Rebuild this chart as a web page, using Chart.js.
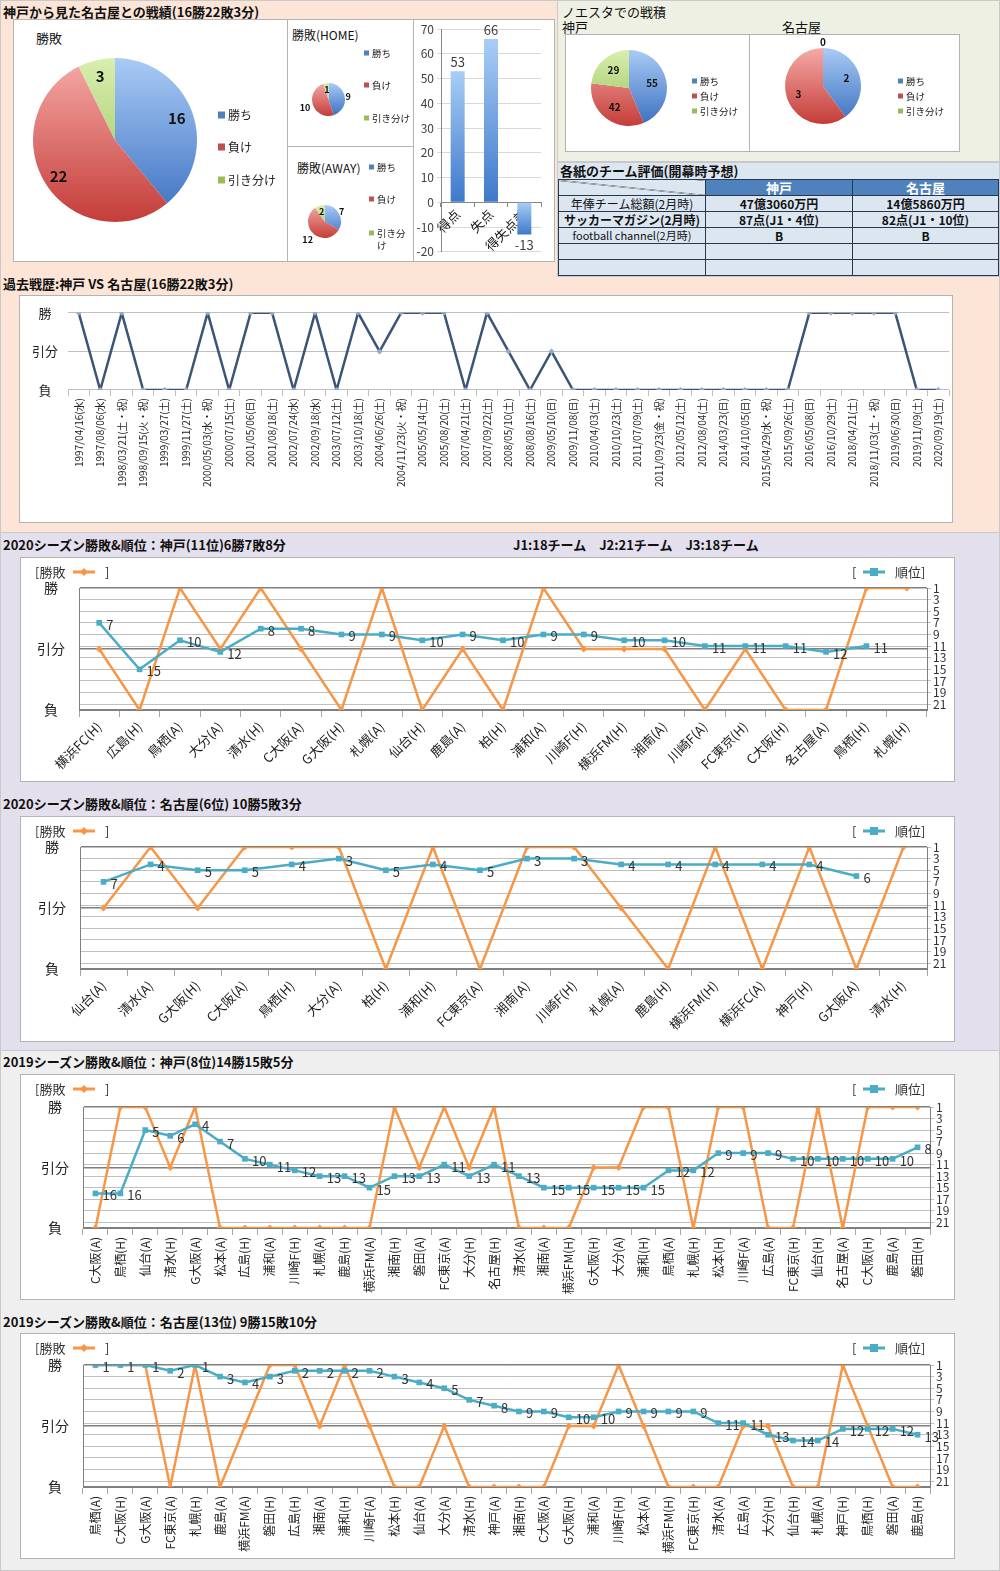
<!DOCTYPE html>
<html lang="ja">
<head>
<meta charset="UTF-8">
<title>神戸 vs 名古屋 戦績</title>
<script src="https://cdn.jsdelivr.net/npm/chart.js"></script>
<style>
  body { margin: 0; width: 1000px; height: 1571px; position: relative; overflow: hidden;
         font-family: "Noto Sans CJK JP", "Noto Sans", sans-serif; color: #111; }
  .sec, .box, .ttl, .txt, canvas { position: absolute; }
  .sec { box-sizing: border-box; border: 1px solid #c9c9c9; }
  .box { background: #fff; border: 1px solid #b3b3b3; box-sizing: border-box; }
  .ttl { font-weight: bold; font-size: 13px; line-height: 16px; white-space: nowrap; }
  .txt { font-size: 13px; line-height: 16px; white-space: nowrap; }
  #rating { position: absolute; left: 558px; top: 179px; width: 440px; border-collapse: collapse;
            table-layout: fixed; font-size: 12px; }
  #rating td { border: 1px solid #26384f; background: #dce6f1; text-align: center; padding: 0;
               height: 15px; line-height: 15px; white-space: nowrap; overflow: hidden; }
  #rating tr.hd td { background: #4f81bd; color: #fff; font-weight: bold; font-size: 13px; height: 14px; }
  #rating tr.hd td.diag { background: #dce6f1 linear-gradient(to top right, transparent calc(50% - 0.6px), #333 50%, transparent calc(50% + 0.6px)); }
  #rating td.val { font-weight: bold; }
</style>
</head>
<body>

<div class="sec" style="left:0;top:0;width:1000px;height:533px;background:#fce4d6"></div>
<div class="sec" style="left:557px;top:0;width:443px;height:162px;background:#eef0e3"></div>
<div class="sec" style="left:557px;top:162px;width:443px;height:115px;background:#dce6f1"></div>
<div class="sec" style="left:0;top:532px;width:1000px;height:519px;background:#e4dfec"></div>
<div class="sec" style="left:0;top:1050px;width:1000px;height:521px;background:#efefef"></div>

<!-- 上段：全体の戦績 -->
<div class="ttl" style="left:3px;top:4px">神戸から見た名古屋との戦績(16勝22敗3分)</div>
<div class="box" style="left:13px;top:19px;width:275px;height:243px"></div>
<div class="box" style="left:287px;top:19px;width:127px;height:128px"></div>
<div class="box" style="left:287px;top:146px;width:127px;height:116px"></div>
<div class="box" style="left:413px;top:19px;width:142px;height:243px"></div>
<div class="txt" style="left:36px;top:30px">勝敗</div>
<div class="txt" style="left:292px;top:27px;font-size:12px">勝敗(HOME)</div>
<div class="txt" style="left:297px;top:160px;font-size:12px">勝敗(AWAY)</div>
<canvas id="pieAll" width="274" height="243" style="left:13px;top:19px"></canvas>
<canvas id="pieHome" width="126" height="127" style="left:287px;top:19px"></canvas>
<canvas id="pieAway" width="126" height="116" style="left:287px;top:146px"></canvas>
<canvas id="goalChart" width="142" height="243" style="left:413px;top:19px"></canvas>

<!-- ノエスタ -->
<div class="txt" style="left:562px;top:4px">ノエスタでの戦積</div>
<div class="txt" style="left:562px;top:19px">神戸</div>
<div class="txt" style="left:782px;top:19px">名古屋</div>
<div class="box" style="left:565px;top:34px;width:185px;height:118px"></div>
<div class="box" style="left:749px;top:34px;width:211px;height:118px"></div>
<canvas id="pieNoestaKobe" width="184" height="118" style="left:565px;top:34px"></canvas>
<canvas id="pieNoestaNagoya" width="211" height="118" style="left:749px;top:34px"></canvas>

<div class="ttl" style="left:560px;top:163px">各紙のチーム評価(開幕時予想)</div>
<table id="rating"><colgroup><col style="width:147px"><col style="width:147px"><col style="width:146px"></colgroup><tbody></tbody></table>

<!-- 過去戦歴 -->
<div class="ttl" style="left:3px;top:276px">過去戦歴:神戸 VS 名古屋(16勝22敗3分)</div>
<div class="box" style="left:19px;top:295px;width:934px;height:228px"></div>
<canvas id="historyChart" width="934" height="228" style="left:19px;top:295px"></canvas>

<!-- 2020 -->
<div class="ttl" style="left:3px;top:537px">2020シーズン勝敗&amp;順位：神戸(11位)6勝7敗8分</div>
<div class="ttl" style="left:513px;top:537px">J1:18チーム　J2:21チーム　J3:18チーム</div>
<div class="box" style="left:20px;top:557px;width:935px;height:225px"></div>
<canvas id="kobe2020" width="935" height="225" style="left:20px;top:557px"></canvas>

<div class="ttl" style="left:3px;top:796px">2020シーズン勝敗&amp;順位：名古屋(6位) 10勝5敗3分</div>
<div class="box" style="left:20px;top:816px;width:935px;height:226px"></div>
<canvas id="nagoya2020" width="935" height="226" style="left:20px;top:816px"></canvas>

<!-- 2019 -->
<div class="ttl" style="left:3px;top:1054px">2019シーズン勝敗&amp;順位：神戸(8位)14勝15敗5分</div>
<div class="box" style="left:20px;top:1074px;width:935px;height:226px"></div>
<canvas id="kobe2019" width="935" height="226" style="left:20px;top:1074px"></canvas>

<div class="ttl" style="left:3px;top:1314px">2019シーズン勝敗&amp;順位：名古屋(13位) 9勝15敗10分</div>
<div class="box" style="left:20px;top:1333px;width:935px;height:226px"></div>
<canvas id="nagoya2019" width="935" height="226" style="left:20px;top:1333px"></canvas>

<script>
// ---- データ ----
const outcomeLabels = ['勝ち', '負け', '引き分け'];
const totalRecord = [16, 22, 3];
const homeRecord = [9, 10, 1];
const awayRecord = [7, 12, 2];

const goalLabels = ['得点', '失点', '得失点差'];
const goalValues = [53, 66, -13];

const noestaKobe = [55, 42, 29];
const noestaNagoya = [2, 3, 0];

const ratingTeams = ['神戸', '名古屋'];
const ratingItems = ['年俸チーム総額(2月時)', 'サッカーマガジン(2月時)', 'football channel(2月時)', '', ''];
const ratingKobe = ['47億3060万円', '87点(J1・4位)', 'B', '', ''];
const ratingNagoya = ['14億5860万円', '82点(J1・10位)', 'B', '', ''];

const resultTicks = ['負', '引分', '勝'];
const rankTicks = [1, 3, 5, 7, 9, 11, 13, 15, 17, 19, 21];

const historyDates = ['1997/04/16(水)', '1997/08/06(水)', '1998/03/21(土・祝)', '1998/09/15(火・祝)', '1999/03/27(土)',
  '1999/11/27(土)', '2000/05/03(水・祝)', '2000/07/15(土)', '2001/05/06(日)', '2001/08/18(土)', '2002/07/24(水)',
  '2002/09/18(水)', '2003/07/12(土)', '2003/10/18(土)', '2004/06/26(土)', '2004/11/23(火・祝)', '2005/05/14(土)',
  '2005/08/20(土)', '2007/04/21(土)', '2007/09/22(土)', '2008/05/10(土)', '2008/08/16(土)', '2009/05/10(日)',
  '2009/11/08(日)', '2010/04/03(土)', '2010/10/23(土)', '2011/07/09(土)', '2011/09/23(金・祝)', '2012/05/12(土)',
  '2012/08/04(土)', '2014/03/23(日)', '2014/10/05(日)', '2015/04/29(水・祝)', '2015/09/26(土)', '2016/05/08(日)',
  '2016/10/29(土)', '2018/04/21(土)', '2018/11/03(土・祝)', '2019/06/30(日)', '2019/11/09(土)', '2020/09/19(土)'];
const historyResults = ['勝', '負', '勝', '負', '負', '負', '勝', '負', '勝', '勝', '負', '勝', '負', '勝', '分', '勝', '勝',
  '勝', '負', '勝', '分', '負', '分', '負', '負', '負', '負', '負', '負', '負', '負', '負', '負', '負', '勝', '勝', '勝', '勝',
  '勝', '負', '負'];

const kobe2020Opponents = ['横浜FC(H)', '広島(H)', '鳥栖(A)', '大分(A)', '清水(H)', 'C大阪(A)', 'G大阪(H)', '札幌(A)',
  '仙台(H)', '鹿島(A)', '柏(H)', '浦和(A)', '川崎F(H)', '横浜FM(H)', '湘南(A)', '川崎F(A)', 'FC東京(H)', 'C大阪(H)',
  '名古屋(A)', '鳥栖(H)', '札幌(H)'];
const kobe2020Results = ['分', '負', '勝', '分', '勝', '分', '負', '勝', '負', '分', '負', '勝', '分', '分', '分', '負', '分',
  '負', '負', '勝', '勝'];
const kobe2020Ranks = [7, 15, 10, 12, 8, 8, 9, 9, 10, 9, 10, 9, 9, 10, 10, 11, 11, 11, 12, 11, null];

const nagoya2020Opponents = ['仙台(A)', '清水(A)', 'G大阪(H)', 'C大阪(A)', '鳥栖(H)', '大分(A)', '柏(H)', '浦和(H)',
  'FC東京(A)', '湘南(A)', '川崎F(H)', '札幌(A)', '鹿島(H)', '横浜FM(H)', '横浜FC(A)', '神戸(H)', 'G大阪(A)', '清水(H)'];
const nagoya2020Results = ['分', '勝', '分', '勝', '勝', '勝', '負', '勝', '負', '勝', '勝', '分', '負', '勝', '負', '勝', '負', '勝'];
const nagoya2020Ranks = [7, 4, 5, 5, 4, 3, 5, 4, 5, 3, 3, 4, 4, 4, 4, 4, 6, null];

const kobe2019Opponents = ['C大阪(A)', '鳥栖(H)', '仙台(A)', '清水(H)', 'G大阪(A)', '松本(A)', '広島(H)', '浦和(A)',
  '川崎F(H)', '札幌(A)', '鹿島(H)', '横浜FM(A)', '湘南(H)', '磐田(A)', 'FC東京(A)', '大分(H)', '名古屋(H)', '清水(A)',
  '湘南(A)', '横浜FM(H)', 'G大阪(H)', '大分(A)', '浦和(H)', '鳥栖(A)', '札幌(H)', '松本(H)', '川崎F(A)', '広島(A)',
  'FC東京(H)', '仙台(H)', '名古屋(A)', 'C大阪(H)', '鹿島(A)', '磐田(H)'];
const kobe2019Results = ['負', '勝', '勝', '分', '勝', '負', '負', '負', '負', '負', '負', '負', '勝', '分', '勝', '分', '勝',
  '負', '負', '負', '分', '分', '勝', '勝', '負', '勝', '勝', '負', '負', '勝', '負', '勝', '勝', '勝'];
const kobe2019Ranks = [16, 16, 5, 6, 4, 7, 10, 11, 12, 13, 13, 15, 13, 13, 11, 13, 11, 13, 15, 15, 15, 15, 15, 12, 12, 9, 9, 9,
  10, 10, 10, 10, 10, 8];

const nagoya2019Opponents = ['鳥栖(A)', 'C大阪(H)', 'G大阪(A)', 'FC東京(A)', '札幌(H)', '鹿島(A)', '横浜FM(A)', '磐田(H)',
  '広島(H)', '湘南(A)', '浦和(H)', '川崎F(A)', '松本(H)', '仙台(A)', '大分(A)', '清水(H)', '神戸(A)', '湘南(H)', 'C大阪(A)',
  'G大阪(H)', '浦和(A)', '川崎F(H)', '松本(A)', '横浜FM(H)', 'FC東京(H)', '清水(A)', '広島(A)', '大分(H)', '仙台(H)',
  '札幌(A)', '神戸(H)', '鳥栖(H)', '磐田(A)', '鹿島(H)'];
const nagoya2019Results = ['勝', '勝', '勝', '負', '勝', '負', '分', '勝', '勝', '分', '勝', '分', '負', '負', '分', '負', '負',
  '負', '負', '分', '分', '勝', '分', '負', '負', '負', '分', '分', '負', '負', '勝', '分', '負', '負'];
const nagoya2019Ranks = [1, 1, 1, 2, 1, 3, 4, 3, 2, 2, 2, 2, 3, 4, 5, 7, 8, 9, 9, 10, 10, 9, 9, 9, 9, 11, 11, 13, 14, 14, 12,
  12, 12, 13];

// ---- 共通設定 ----
const FONT = '"Noto Sans CJK JP", "Noto Sans", sans-serif';
Chart.defaults.font.family = FONT;
Chart.defaults.color = '#222';

const RESULT_VALUE = { '負': 0, '分': 1, '勝': 2 };
const PIE_SOLID = ['#4f81bd', '#c0504d', '#9bbb59'];
const PIE_LIGHT = ['#a9cbf5', '#f6aaa7', '#d8efae'];
const PIE_DARK = ['#3a6fc0', '#c43d39', '#95bd55'];
const ORANGE = '#f79646';
const TEAL = '#4bacc6';

// 表
const tbody = document.querySelector('#rating tbody');
tbody.innerHTML = `<tr class="hd"><td class="diag"></td><td>${ratingTeams[0]}</td><td>${ratingTeams[1]}</td></tr>`;
ratingItems.forEach((item, i) => {
  const style = i === 1 ? 'font-weight:bold' : (i === 2 ? 'font-size:11px' : '');
  tbody.innerHTML += `<tr><td style="${style}">${item}</td><td class="val">${ratingKobe[i]}</td><td class="val">${ratingNagoya[i]}</td></tr>`;
});

// 円グラフ
function pieFill(c) {
  const area = c.chart.chartArea;
  if (!area) return PIE_SOLID[c.dataIndex];
  const g = c.chart.ctx.createLinearGradient(0, area.top, 0, area.bottom);
  g.addColorStop(0, PIE_LIGHT[c.dataIndex]);
  g.addColorStop(1, PIE_DARK[c.dataIndex]);
  return g;
}

function pieDecor(cfg) {
  return {
    id: 'pieDecor',
    afterDatasetsDraw(chart) {
      const ctx = chart.ctx;
      const data = chart.data.datasets[0].data;
      ctx.save();
      ctx.font = cfg.valueFont;
      ctx.fillStyle = '#111';
      ctx.textAlign = 'center';
      ctx.textBaseline = 'middle';
      chart.getDatasetMeta(0).data.forEach((arc, i) => {
        const mid = (arc.startAngle + arc.endAngle) / 2;
        const r = arc.outerRadius * (data[i] === 0 ? cfg.zeroFactor : cfg.factors[i]);
        ctx.fillText(data[i], arc.x + Math.cos(mid) * r, arc.y + Math.sin(mid) * r);
      });
      // 凡例
      ctx.font = cfg.legendFont;
      ctx.textAlign = 'left';
      const s = cfg.square;
      chart.data.labels.forEach((lab, i) => {
        const y = cfg.legendY[i];
        ctx.fillStyle = PIE_SOLID[i];
        ctx.fillRect(cfg.legendX, y - s / 2, s, s);
        ctx.fillStyle = '#222';
        let line = '', yy = y;
        for (const ch of lab) {
          if (cfg.maxWidth && ctx.measureText(line + ch).width > cfg.maxWidth) {
            ctx.fillText(line, cfg.legendX + s + 3, yy);
            line = '';
            yy += cfg.lineGap;
          }
          line += ch;
        }
        ctx.fillText(line, cfg.legendX + s + 3, yy);
      });
      ctx.restore();
    }
  };
}

function drawPie(id, values, pad, deco) {
  return new Chart(document.getElementById(id), {
    type: 'pie',
    data: { labels: outcomeLabels, datasets: [{ data: values, backgroundColor: pieFill, borderWidth: 0 }] },
    options: {
      responsive: false, animation: false,
      layout: { padding: pad },
      plugins: { legend: { display: false }, tooltip: { enabled: false } }
    },
    plugins: [pieDecor(deco)]
  });
}

drawPie('pieAll', totalRecord, { left: 20, top: 39, right: 90, bottom: 40 },
  { factors: [0.8, 0.82, 0.8], valueFont: `bold 15px ${FONT}`, legendFont: `12px ${FONT}`,
    legendX: 205, legendY: [96, 128, 161], square: 7 });
drawPie('pieHome', homeRecord, { left: 25, top: 64, right: 68, bottom: 30 },
  { factors: [1.2, 1.5, 0.6], valueFont: `bold 9px ${FONT}`, legendFont: `9.5px ${FONT}`,
    legendX: 77, legendY: [34, 66, 99], square: 5 });
drawPie('pieAway', awayRecord, { left: 21, top: 59, right: 72, bottom: 24 },
  { factors: [1.2, 1.5, 0.6], valueFont: `bold 9px ${FONT}`, legendFont: `9.5px ${FONT}`,
    legendX: 82, legendY: [21, 53, 87], square: 5, maxWidth: 32, lineGap: 12 });
drawPie('pieNoestaKobe', noestaKobe, { left: 26, top: 16, right: 82, bottom: 26 },
  { factors: [0.62, 0.62, 0.62], valueFont: `bold 10px ${FONT}`, legendFont: `9.5px ${FONT}`,
    legendX: 127, legendY: [47, 62, 77], square: 5 });
drawPie('pieNoestaNagoya', noestaNagoya, { left: 36, top: 14, right: 99, bottom: 28 },
  { factors: [0.65, 0.68, 0.62], zeroFactor: 1.15, valueFont: `bold 10px ${FONT}`, legendFont: `9.5px ${FONT}`,
    legendX: 149, legendY: [47, 62, 77], square: 5 });

// 得点・失点
function barFill(c) {
  const chart = c.chart;
  if (!chart.chartArea) return '#5b8fd6';
  const ys = chart.scales.y;
  const v = c.dataset.data[c.dataIndex];
  const top = ys.getPixelForValue(Math.max(v, 0));
  const bot = ys.getPixelForValue(Math.min(v, 0));
  const g = chart.ctx.createLinearGradient(0, top, 0, bot);
  g.addColorStop(0, '#a9cdf6');
  g.addColorStop(1, '#3d79ca');
  return g;
}

const barLabels = {
  id: 'barLabels',
  afterDatasetsDraw(chart) {
    const ctx = chart.ctx;
    const data = chart.data.datasets[0].data;
    ctx.save();
    ctx.font = `13px ${FONT}`;
    ctx.fillStyle = '#404040';
    ctx.textAlign = 'center';
    ctx.textBaseline = 'middle';
    chart.getDatasetMeta(0).data.forEach((bar, i) => {
      ctx.fillText(data[i], bar.x, data[i] >= 0 ? bar.y - 9 : bar.y + 11);
    });
    ctx.restore();
  }
};

new Chart(document.getElementById('goalChart'), {
  type: 'bar',
  data: { labels: goalLabels, datasets: [{ data: goalValues, backgroundColor: barFill, barPercentage: 0.42, categoryPercentage: 1 }] },
  options: {
    responsive: false, animation: false,
    layout: { padding: { top: 10, bottom: 9, right: 14, left: 0 } },
    plugins: { legend: { display: false }, tooltip: { enabled: false } },
    scales: {
      x: {
        position: { y: 0 },
        grid: { offset: true, drawOnChartArea: false, tickLength: 4, color: '#868686' },
        border: { color: '#868686' },
        ticks: { minRotation: 45, maxRotation: 45, font: { size: 13 }, color: '#111', padding: 0 }
      },
      y: {
        min: -20, max: 70,
        ticks: { stepSize: 10, font: { size: 12 }, color: '#404040', padding: 3 },
        grid: { color: '#d9d9d9', tickLength: 4 },
        border: { color: '#868686' },
        afterFit: a => { a.width = 28; }
      }
    }
  },
  plugins: [barLabels]
});

// 過去戦歴
new Chart(document.getElementById('historyChart'), {
  type: 'line',
  data: {
    labels: historyDates,
    datasets: [{
      data: historyResults.map(r => RESULT_VALUE[r]),
      borderColor: '#3b5578', borderWidth: 2.5, tension: 0,
      pointStyle: 'rectRot', pointRadius: 3, pointBackgroundColor: '#93a9c9', pointBorderWidth: 0
    }]
  },
  options: {
    responsive: false, animation: false,
    layout: { padding: { top: 14, right: 0 } },
    plugins: { legend: { display: false }, tooltip: { enabled: false } },
    scales: {
      x: {
        offset: true,
        grid: { offset: true, drawOnChartArea: false, tickLength: 6, color: '#bfbfbf' },
        border: { display: false },
        ticks: { autoSkip: false, minRotation: 90, maxRotation: 90, font: { size: 10 }, color: '#222', padding: 2 },
        afterFit: a => { a.height = 133; }
      },
      y: {
        min: 0, max: 2,
        ticks: { stepSize: 1, callback: v => resultTicks[v], font: { size: 13 }, crossAlign: 'center', padding: 10 },
        grid: { color: '#bfbfbf', drawTicks: false },
        border: { display: false },
        afterFit: a => { a.width = 49; }
      }
    }
  }
});

// シーズン推移
const pointLabels = {
  id: 'pointLabels',
  afterDatasetsDraw(chart) {
    const ctx = chart.ctx;
    ctx.save();
    ctx.font = `13px ${FONT}`;
    ctx.fillStyle = '#333';
    ctx.textAlign = 'left';
    ctx.textBaseline = 'middle';
    chart.data.datasets.forEach((ds, i) => {
      if (!ds.showValue) return;
      chart.getDatasetMeta(i).data.forEach((pt, j) => {
        if (ds.data[j] == null) return;
        ctx.fillText(ds.data[j], pt.x + 7, pt.y + 2);
      });
    });
    ctx.restore();
  }
};

function legendSample(ctx, x, y, color, style) {
  ctx.strokeStyle = color;
  ctx.lineWidth = 3;
  ctx.beginPath();
  ctx.moveTo(x, y);
  ctx.lineTo(x + 22, y);
  ctx.stroke();
  ctx.fillStyle = color;
  const cx = x + 11;
  ctx.beginPath();
  if (style === 'diamond') {
    ctx.moveTo(cx, y - 4); ctx.lineTo(cx + 4, y); ctx.lineTo(cx, y + 4); ctx.lineTo(cx - 4, y);
  } else {
    ctx.rect(cx - 4, y - 4, 8, 8);
  }
  ctx.fill();
}

const seasonLegend = {
  id: 'seasonLegend',
  afterDraw(chart) {
    const ctx = chart.ctx;
    const [rankSet, resultSet] = chart.data.datasets;
    const y = 15;
    ctx.save();
    ctx.font = `13px ${FONT}`;
    ctx.fillStyle = '#333';
    ctx.textAlign = 'left';
    ctx.textBaseline = 'middle';
    ctx.fillText('[' + resultSet.label, 15, y);
    legendSample(ctx, 53, y, resultSet.borderColor, 'diamond');
    ctx.fillStyle = '#333';
    ctx.fillText(']', 85, y);
    const rx = chart.width - 103;
    ctx.fillText('[', rx, y);
    legendSample(ctx, rx + 11, y, rankSet.borderColor, 'square');
    ctx.fillStyle = '#333';
    ctx.fillText(rankSet.label + ']', rx + 43, y);
    ctx.restore();
  }
};

function seasonChart(id, opponents, results, ranks, lay) {
  return new Chart(document.getElementById(id), {
    type: 'line',
    data: {
      labels: opponents,
      datasets: [
        { label: '順位', data: ranks, yAxisID: 'y2', order: 1, showValue: true,
          borderColor: TEAL, backgroundColor: TEAL, borderWidth: 2.5, tension: 0,
          pointStyle: 'rect', pointRadius: 4, pointBorderWidth: 0 },
        { label: '勝敗', data: results.map(r => RESULT_VALUE[r]), yAxisID: 'y', order: 2,
          borderColor: ORANGE, backgroundColor: ORANGE, borderWidth: 2.5, tension: 0,
          pointStyle: 'rectRot', pointRadius: 3.5, pointBorderWidth: 0 }
      ]
    },
    options: {
      responsive: false, animation: false,
      layout: { padding: { top: lay.top, left: 0, right: 0, bottom: 0 } },
      plugins: { legend: { display: false }, tooltip: { enabled: false } },
      scales: {
        x: {
          offset: true,
          grid: { offset: true, drawOnChartArea: false, tickLength: 7, color: '#a6a6a6' },
          border: { color: '#7f7f7f' },
          ticks: { autoSkip: false, minRotation: lay.rotation, maxRotation: lay.rotation,
                   font: { size: lay.labelSize }, color: '#222', padding: 2 },
          afterFit: a => { a.height = lay.bottom; }
        },
        y: {
          position: 'left', min: 0, max: 2,
          ticks: { stepSize: 1, callback: v => resultTicks[v], font: { size: 14 }, color: '#222',
                   crossAlign: 'center', padding: 14 },
          grid: { color: '#7f7f7f', lineWidth: 1.5, drawTicks: false },
          border: { color: '#7f7f7f' },
          afterFit: a => { a.width = lay.left; }
        },
        y2: {
          position: 'right', reverse: true, min: 1, max: 22,
          afterBuildTicks: a => { a.ticks = rankTicks.map(v => ({ value: v })); },
          ticks: { autoSkip: false, font: { size: 12 }, color: '#333', padding: 2 },
          grid: { color: '#bfbfbf', tickLength: 4 },
          border: { color: '#7f7f7f' },
          afterFit: a => { a.width = lay.right; }
        }
      }
    },
    plugins: [pointLabels, seasonLegend]
  });
}

seasonChart('kobe2020', kobe2020Opponents, kobe2020Results, kobe2020Ranks,
  { top: 31, bottom: 72, left: 59, right: 28, rotation: 45, labelSize: 13 });
seasonChart('nagoya2020', nagoya2020Opponents, nagoya2020Results, nagoya2020Ranks,
  { top: 31, bottom: 73, left: 60, right: 28, rotation: 45, labelSize: 13 });
seasonChart('kobe2019', kobe2019Opponents, kobe2019Results, kobe2019Ranks,
  { top: 33, bottom: 72, left: 63, right: 25, rotation: 90, labelSize: 12 });
seasonChart('nagoya2019', nagoya2019Opponents, nagoya2019Results, nagoya2019Ranks,
  { top: 32, bottom: 72, left: 63, right: 25, rotation: 90, labelSize: 12 });
</script>
</body>
</html>
